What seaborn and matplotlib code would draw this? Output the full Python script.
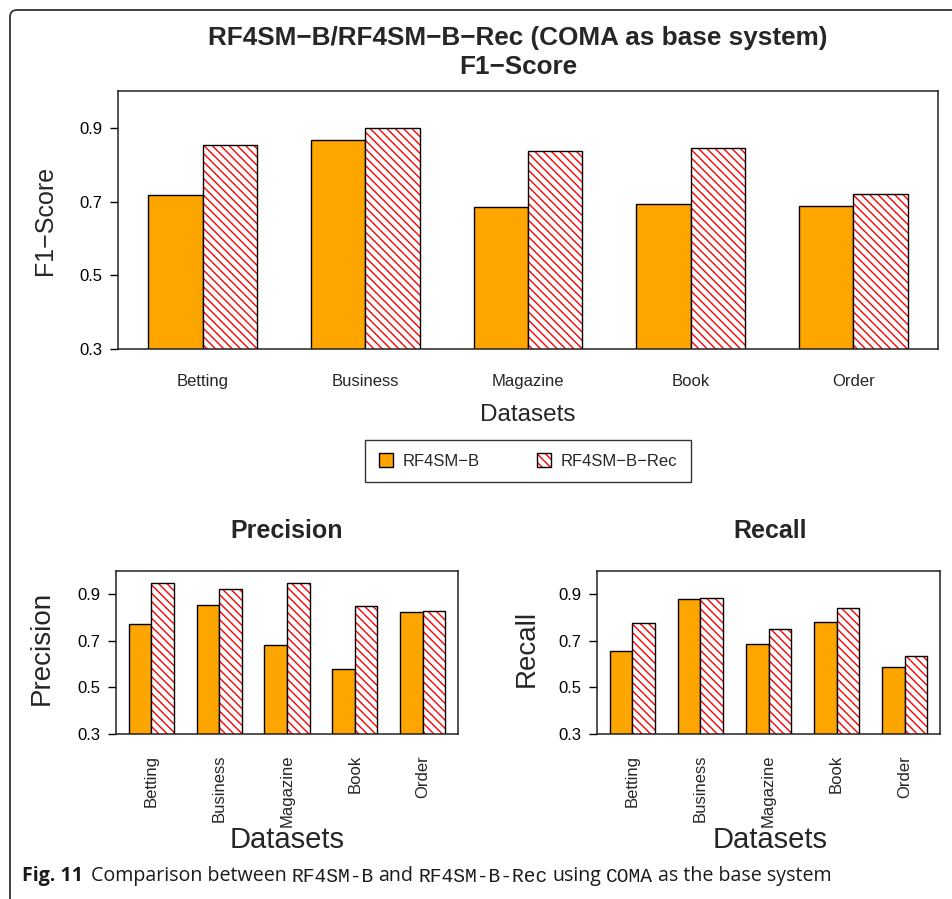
import pandas as pd
import matplotlib
matplotlib.use("Agg")
import matplotlib.pyplot as plt
import seaborn as sns
from matplotlib.patches import Patch, Rectangle, FancyBboxPatch
from matplotlib.transforms import IdentityTransform

datasets = ["Betting", "Business", "Magazine", "Book", "Order"]
methods = ["RF4SM\u2212B", "RF4SM\u2212B\u2212Rec"]

f1_base = [0.717, 0.866, 0.686, 0.693, 0.689]
f1_rec = [0.854, 0.900, 0.838, 0.844, 0.720]
precision_base = [0.772, 0.855, 0.681, 0.578, 0.823]
precision_rec = [0.947, 0.921, 0.947, 0.849, 0.830]
recall_base = [0.655, 0.880, 0.687, 0.781, 0.586]
recall_rec = [0.778, 0.883, 0.752, 0.840, 0.636]

yticks = [0.3, 0.5, 0.7, 0.9]

ORANGE = "#FFA500"
HATCH = "\\\\\\\\"

W, H = 953, 899


def fx(px):
    return px / W


def fy(py):
    return 1 - py / H


def panel(ax, base, rec, rotate):
    df = pd.DataFrame({
        "dataset": datasets * 2,
        "method": [methods[0]] * len(datasets) + [methods[1]] * len(datasets),
        "value": base + rec,
    })
    sns.barplot(data=df, x="dataset", y="value", hue="method",
                palette=[ORANGE, "white"], saturation=1, width=2 / 3, gap=0,
                edgecolor="black", linewidth=1, errorbar=None, legend=False, ax=ax)
    # red hatching with a black outline on top
    for bar in ax.containers[1]:
        bar.set_hatch(HATCH)
        bar.set_edgecolor("red")
        bar.set_linewidth(0)
        ax.add_patch(Rectangle((bar.get_x(), bar.get_y()), bar.get_width(),
                               bar.get_height(), fill=False, ec="black", lw=1))
    ax.set_ylim(0.3, 1.0)
    ax.set_xlim(-0.52, 4.52)
    ax.set_yticks(yticks)
    ax.set_yticklabels([f"{t:.1f}" for t in yticks])
    ax.set_xlabel("")
    ax.set_ylabel("")
    for s in ax.spines.values():
        s.set_visible(True)
        s.set_color("#222222")
        s.set_linewidth(1.1)
    ax.tick_params(axis="y", length=6, width=1, pad=5, labelsize=12, colors="black")
    if rotate:
        ax.tick_params(axis="x", length=0, pad=15, labelsize=12, labelrotation=90)
    else:
        ax.tick_params(axis="x", length=0, pad=18, labelsize=12)


sns.set_style("ticks")
plt.rcParams["font.family"] = ["Liberation Sans", "DejaVu Sans"]
plt.rcParams["hatch.linewidth"] = 1.0

fig = plt.figure(figsize=(W / 100, H / 100), dpi=100)

ax_top = fig.add_axes([fx(118), fy(349), fx(938) - fx(118), fy(91) - fy(349)])
ax_p = fig.add_axes([fx(116), fy(734), fx(458) - fx(116), fy(571) - fy(734)])
ax_r = fig.add_axes([fx(597), fy(734), fx(940) - fx(597), fy(571) - fy(734)])

panel(ax_top, f1_base, f1_rec, rotate=False)
panel(ax_p, precision_base, precision_rec, rotate=True)
panel(ax_r, recall_base, recall_rec, rotate=True)

# titles and labels
fig.text(fx(518), fy(38), "RF4SM\u2212B/RF4SM\u2212B\u2212Rec (COMA as base system)",
         ha="center", va="center", fontsize=18.8, fontweight="bold")
fig.text(fx(518), fy(67), "F1\u2212Score", ha="center", va="center",
         fontsize=18.8, fontweight="bold")
fig.text(fx(45), fy(220), "F1\u2212Score", rotation=90, ha="center", va="center", fontsize=18)
fig.text(fx(528), fy(415), "Datasets", ha="center", va="center", fontsize=17.5)

fig.text(fx(287), fy(531), "Precision", ha="center", va="center", fontsize=18, fontweight="bold")
fig.text(fx(770), fy(531), "Recall", ha="center", va="center", fontsize=18, fontweight="bold")
fig.text(fx(42), fy(648), "Precision", rotation=90, ha="center", va="center", fontsize=20)
fig.text(fx(527), fy(648), "Recall", rotation=90, ha="center", va="center", fontsize=20)
fig.text(fx(287), fy(840), "Datasets", ha="center", va="center", fontsize=21)
fig.text(fx(770), fy(840), "Datasets", ha="center", va="center", fontsize=21)

# legend
h_base = Patch(facecolor=ORANGE, edgecolor="black", lw=1)
h_rec = (Patch(facecolor="white", edgecolor="red", hatch=HATCH, lw=0),
         Patch(facecolor="none", edgecolor="black", lw=1))
leg = fig.legend([h_base, h_rec], methods, loc="center",
                 bbox_to_anchor=(fx(528), fy(461)), ncol=2, fontsize=12,
                 frameon=True, fancybox=False, edgecolor="black",
                 handlelength=0.85, handleheight=0.85, handletextpad=0.6,
                 columnspacing=3.4, borderpad=0.8, borderaxespad=0)
leg.get_frame().set_linewidth(1)

# rounded frame around the figure
frame = FancyBboxPatch((10, -60), 1000, H - 10 + 60, boxstyle="round,pad=0,rounding_size=7",
                       transform=IdentityTransform(), fill=False, ec="#333333", lw=1.3)
fig.patches.append(frame)

# caption built from pieces of different fonts
renderer = fig.canvas.get_renderer()
pieces = [("Fig. 11", "Open Sans", "bold", 7),
          ("Comparison between", "Open Sans", "normal", 4),
          ("RF4SM-B", "Liberation Mono", "normal", 4),
          ("and", "Open Sans", "normal", 4),
          ("RF4SM-B-Rec", "Liberation Mono", "normal", 4),
          ("using", "Open Sans", "normal", 4),
          ("COMA", "Liberation Mono", "normal", 4),
          ("as the base system", "Open Sans", "normal", 0)]


def draw_caption(size, draw=True):
    x = 22
    texts = []
    for s, fam, wt, gap in pieces:
        t = fig.text(x / W, fy(876), s, ha="left", va="center", fontsize=size,
                     family=fam, fontweight=wt, color="#1a1a1a")
        w = t.get_window_extent(renderer).width
        texts.append(t)
        x += w + gap * size / 12
    if not draw:
        for t in texts:
            t.remove()
    return x - 22


total = draw_caption(12, draw=False)
draw_caption(12 * 806 / total)

fig.savefig("out.png", dpi=100)
